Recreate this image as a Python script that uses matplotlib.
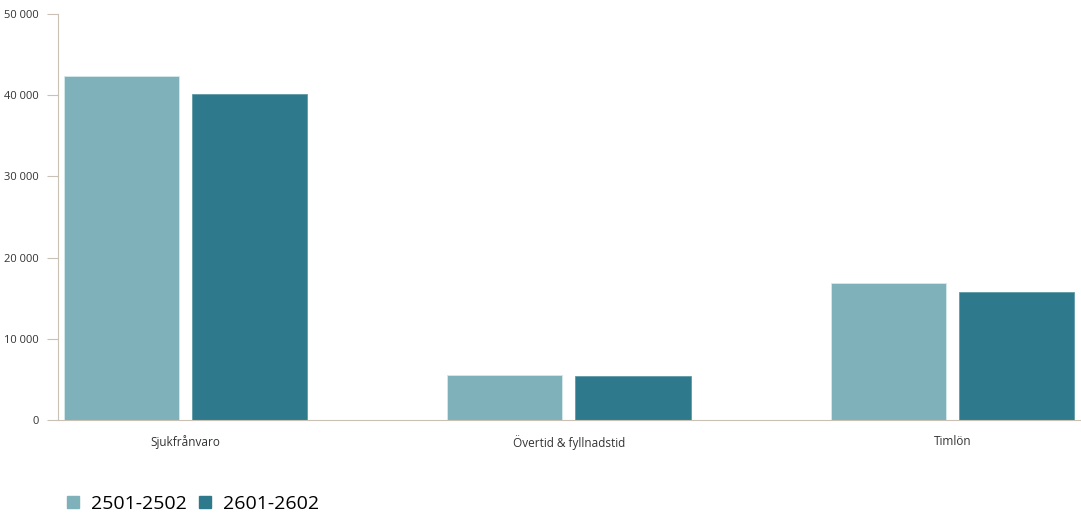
import numpy as np
import matplotlib.pyplot as plt
from matplotlib.lines import Line2D
from matplotlib.ticker import FuncFormatter

categories = ["Sjukfrånvaro", "Övertid & fyllnadstid", "Timlön"]
series_names = ["2501-2502", "2601-2602"]
values_2501 = [42400, 5540, 16870]
values_2601 = [40150, 5420, 15760]
colors = ["#7fb1bb", "#2e7a8c"]

plt.rcParams['font.family'] = ['Open Sans', 'DejaVu Sans']

fig = plt.figure(figsize=(10.81, 5.14), dpi=100)
ax = fig.add_axes([58 / 1081, 94 / 514, 1023 / 1081, 406 / 514])

x = np.arange(len(categories))
w = 0.30
ax.bar(x - 0.167, values_2501, w, color=colors[0], edgecolor="#d6e8ec", linewidth=0.6)
ax.bar(x + 0.167, values_2601, w, color=colors[1], edgecolor="#5f9aa8", linewidth=0.6)

ax.set_xlim(-0.332, 2.335)
ax.set_ylim(0, 50000)
ax.set_yticks(np.arange(0, 50001, 10000))
ax.yaxis.set_major_formatter(FuncFormatter(lambda v, p: f"{int(v):,}".replace(",", " ")))
ax.set_xticks(x)
ax.set_xticklabels(categories)

axis_col = "#c9c1b6"
for s in ["top", "right"]:
    ax.spines[s].set_visible(False)
ax.spines["left"].set_color(axis_col)
ax.spines["bottom"].set_color(axis_col)
ax.tick_params(axis="y", length=8, color=axis_col, labelsize=8, labelcolor="#333333", pad=6)
ax.tick_params(axis="x", length=0, labelsize=8.5, labelcolor="#333333", pad=11)

handles = [Line2D([], [], marker="s", linestyle="none", markersize=8,
                  markerfacecolor=c, markeredgecolor=c) for c in colors]
fig.legend(handles, series_names, loc="lower left", bbox_to_anchor=(46 / 1081, -0.032),
           ncol=2, frameon=False, fontsize=14, handletextpad=0.4, columnspacing=0.45,
           handlelength=1.0)

fig.savefig("out.png", dpi=100)
